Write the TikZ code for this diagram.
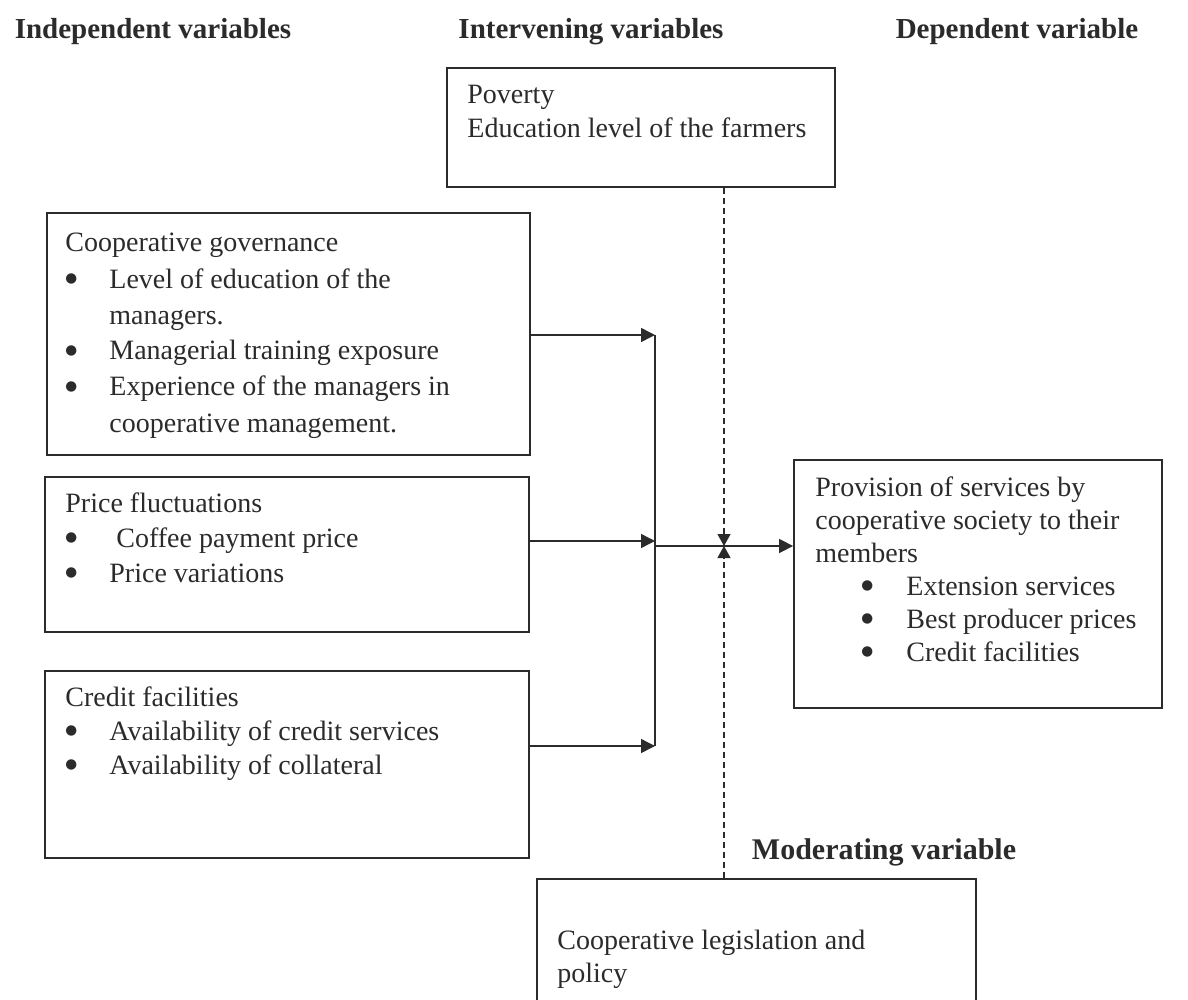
\documentclass[tikz,border=0pt]{standalone}
\usepackage{fontspec}
\setmainfont{Liberation Serif}
\newfontfamily\symfont{DejaVu Sans}
\usetikzlibrary{arrows.meta,fit}
\definecolor{ink}{HTML}{2B2B2B}
\newcommand\bul[2][22pt]{\makebox[#1][l]{\raisebox{2.7pt}{\symfont\fontsize{6.8}{7}\selectfont ●}}#2}
\begin{document}
\begin{tikzpicture}[x=0.5pt,y=-0.5pt,
  box/.style={draw=ink, line width=0.9pt, inner sep=0pt},
  txt/.style={anchor=base west, inner sep=0pt, text=ink, font=\fontsize{14}{17}\selectfont},
  head/.style={anchor=base, inner sep=0pt, text=ink, font=\bfseries\fontsize{14.5}{17}\selectfont},
  arr/.style={draw=ink, line width=0.75pt, -{Triangle[length=7pt,width=7pt]}},
  bus/.style={draw=ink, line width=0.75pt},
  dashline/.style={draw=ink, line width=0.6pt, dash pattern=on 3pt off 2pt, -{Triangle[length=6pt,width=6.5pt]}}
]
\clip (0,0) rectangle (1188,1000);
\fill[white] (0,0) rectangle (1188,1000);

% headings
\node[head] (hind) at (153,39) {Independent variables};
\node[head] (hint) at (591,39) {Intervening variables};
\node[head] (hdep) at (1017,39) {Dependent variable};
\node[head, font=\bfseries\fontsize{15}{17}\selectfont] (hmod) at (884,859) {Moderating variable};

% boxes
\node[box, fit={(447,68) (835,187)}] (pov) {};
\node[box, fit={(47,213) (530,455)}] (cg) {};
\node[box, fit={(45,477) (529,632)}] (pf) {};
\node[box, fit={(45,671) (529,858)}] (cf) {};
\node[box, fit={(794,460) (1162,708)}] (prov) {};
\node[box, fit={(537,879) (976,1030)}] (leg) {};

% texts
\node[txt] (povt) at (467,104) {\begin{tabular}[t]{@{}l@{}}Poverty\\ Education level of the farmers\end{tabular}};
\node[txt, font=\fontsize{14}{18}\selectfont] (cgt) at (65,252) {\begin{tabular}[t]{@{}l@{}}Cooperative governance\\
\bul{Level of education of the}\\
\hspace*{22pt}managers.\\
\bul{Managerial training exposure}\\
\bul{Experience of the managers in}\\
\hspace*{22pt}cooperative management.\end{tabular}};
\node[txt, font=\fontsize{14}{17.5}\selectfont] (pft) at (65,512) {\begin{tabular}[t]{@{}l@{}}Price fluctuations\\
\bul[25.5pt]{Coffee payment price}\\
\bul{Price variations}\end{tabular}};
\node[txt] (cft) at (65,706) {\begin{tabular}[t]{@{}l@{}}Credit facilities\\
\bul{Availability of credit services}\\
\bul{Availability of collateral}\end{tabular}};
\node[txt, font=\fontsize{14}{16.5}\selectfont] (provt) at (815,496) {\begin{tabular}[t]{@{}l@{}}Provision of services by\\
cooperative society to their\\
members\\
\hspace*{23pt}\bul[22.5pt]{Extension services}\\
\hspace*{23pt}\bul[22.5pt]{Best producer prices}\\
\hspace*{23pt}\bul[22.5pt]{Credit facilities}\end{tabular}};
\node[txt, font=\fontsize{14}{16.5}\selectfont] (legt) at (557,949) {\begin{tabular}[t]{@{}l@{}}Cooperative legislation and\\ policy\end{tabular}};

% junctions
\coordinate (j1) at (655,335);
\coordinate (j2) at (655,541);
\coordinate (j3) at (655,746);
\coordinate (m) at (655,546);
\coordinate (x) at (724,546);

% connectors
\draw[bus] (j1) -- (j3);
\draw[arr] (cg.east |- j1) -- (j1);
\draw[arr] (pf.east |- j2) -- (j2);
\draw[arr] (cf.east |- j3) -- (j3);
\draw[arr] (m) -- (prov.west |- m);
\draw[dashline] (pov.south -| x) -- (x);
\draw[dashline] (leg.north -| x) -- (x);
\end{tikzpicture}
\end{document}
